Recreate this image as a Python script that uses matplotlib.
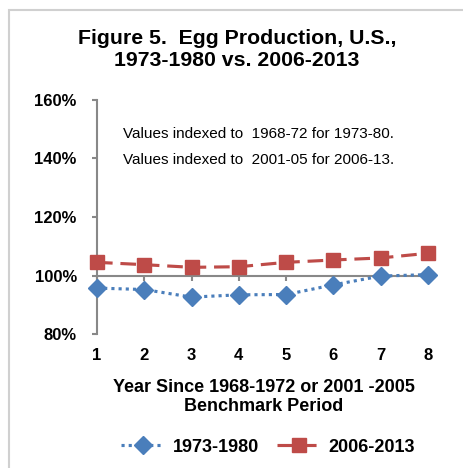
import matplotlib
matplotlib.use("Agg")
import matplotlib.pyplot as plt
from matplotlib.patches import Rectangle

plt.rcParams['font.family'] = ['Liberation Sans', 'DejaVu Sans']

years = [1, 2, 3, 4, 5, 6, 7, 8]
series_7380 = [95.7, 95.2, 92.6, 93.4, 93.5, 96.8, 99.8, 100.3]
series_0613 = [104.5, 103.7, 102.8, 103.0, 104.5, 105.3, 106.0, 107.6]
ytick_vals = [80, 100, 120, 140, 160]
ytick_labels = ['80%', '100%', '120%', '140%', '160%']
title = "Figure 5.  Egg Production, U.S.,\n1973-1980 vs. 2006-2013"
xlabel = "Year Since 1968-1972 or 2001 -2005\nBenchmark Period"
note = "Values indexed to  1968-72 for 1973-80.\nValues indexed to  2001-05 for 2006-13."
labels = ['1973-1980', '2006-2013']

W, H = 464, 468
fig = plt.figure(figsize=(W / 100, H / 100), dpi=100)

# outer border
fig.patches.append(Rectangle((9.5 / W, -0.1), 2, (H - 9.5) / H + 0.1,
                             transform=fig.transFigure, fill=False,
                             edgecolor='#d0d0d0', linewidth=1.5))

left, right = 97 / W, 428 / W
bottom, top = 1 - 334 / H, 1 - 100 / H
ax = fig.add_axes([left, bottom, right - left, top - bottom])
ax.set_xlim(1, 8)
ax.set_ylim(80, 160)

blue = '#4a7ebb'
red = '#be4b48'
l1, = ax.plot(years, series_7380, color=blue, linestyle=(0, (1, 1.3)), linewidth=2.25,
              marker='D', markersize=9, markerfacecolor=blue, markeredgecolor=blue,
              clip_on=False, zorder=3, label=labels[0])
l2, = ax.plot(years, series_0613, color=red, linestyle=(0, (5, 2.5)), linewidth=2.25,
              marker='s', markersize=9.5, markerfacecolor=red, markeredgecolor=red,
              clip_on=False, zorder=3, label=labels[1])

for s in ['top', 'right']:
    ax.spines[s].set_visible(False)
ax.spines['left'].set_color('#888888')
ax.spines['left'].set_linewidth(1.5)
ax.spines['bottom'].set_position(('data', 100))
ax.spines['bottom'].set_color('#888888')
ax.spines['bottom'].set_linewidth(1.5)

ax.set_yticks(ytick_vals)
ax.set_yticklabels(ytick_labels, fontsize=12, fontweight='bold')
ax.set_xticks(years)
ax.set_xticklabels([])
ax.tick_params(axis='both', color='#888888', width=1.5, length=3.5)
ax.tick_params(axis='y', pad=11)

for x in years:
    ax.annotate(str(x), xy=(x, 0), xycoords=('data', 'axes fraction'),
                xytext=(0, -10), textcoords='offset points', ha='center', va='top',
                fontsize=12, fontweight='bold')

fig.text(237 / W, 1 - 49 / H, title, ha='center', va='center', fontsize=15.3,
         fontweight='bold', linespacing=1.2)
fig.text(264 / W, 1 - 397 / H, xlabel, ha='center', va='center', fontsize=13,
         fontweight='bold', linespacing=1.2)
fig.text(123 / W, 1 - 147 / H, note, ha='left', va='center', fontsize=11,
         linespacing=2.1)

fig.legend(handles=[l1, l2], loc='center', bbox_to_anchor=(268 / W, 1 - 447 / H),
           ncol=2, frameon=False, prop={'size': 13, 'weight': 'bold'},
           handlelength=2.4, columnspacing=1.0, handletextpad=0.45)

fig.savefig('out.png', dpi=100)
